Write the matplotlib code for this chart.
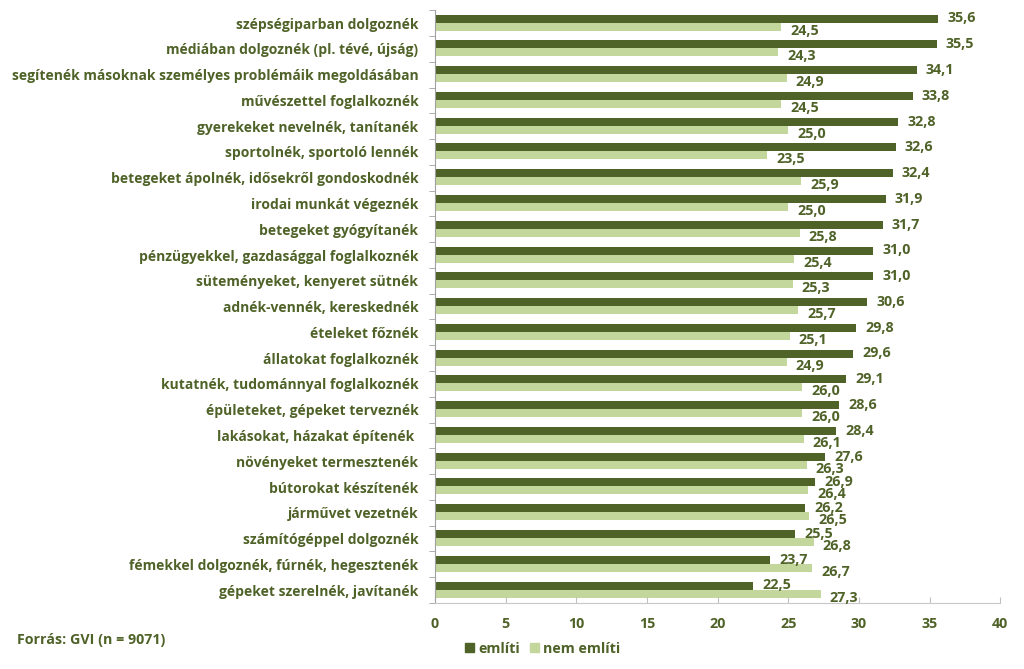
import numpy as np
import matplotlib.pyplot as plt
from matplotlib.patches import Patch

categories = [
    "szépségiparban dolgoznék",
    "médiában dolgoznék (pl. tévé, újság)",
    "segítenék másoknak személyes problémáik megoldásában",
    "művészettel foglalkoznék",
    "gyerekeket nevelnék, tanítanék",
    "sportolnék, sportoló lennék",
    "betegeket ápolnék, idősekről gondoskodnék",
    "irodai munkát végeznék",
    "betegeket gyógyítanék",
    "pénzügyekkel, gazdasággal foglalkoznék",
    "süteményeket, kenyeret sütnék",
    "adnék-vennék, kereskednék",
    "ételeket főznék",
    "állatokat foglalkoznék",
    "kutatnék, tudománnyal foglalkoznék",
    "épületeket, gépeket terveznék",
    "lakásokat, házakat építenék ",
    "növényeket termesztenék",
    "bútorokat készítenék",
    "járművet vezetnék",
    "számítógéppel dolgoznék",
    "fémekkel dolgoznék, fúrnék, hegesztenék",
    "gépeket szerelnék, javítanék",
]
emliti = [35.6, 35.5, 34.1, 33.8, 32.8, 32.6, 32.4, 31.9, 31.7, 31.0, 31.0, 30.6,
          29.8, 29.6, 29.1, 28.6, 28.4, 27.6, 26.9, 26.2, 25.5, 23.7, 22.5]
nem_emliti = [24.5, 24.3, 24.9, 24.5, 25.0, 23.5, 25.9, 25.0, 25.8, 25.4, 25.3, 25.7,
              25.1, 24.9, 26.0, 26.0, 26.1, 26.3, 26.4, 26.5, 26.8, 26.7, 27.3]
series_names = ["említi", "nem említi"]
xticks = [0, 5, 10, 15, 20, 25, 30, 35, 40]

dark = "#4f6228"
light = "#c3d69b"
txt = "#4f6228"
plt.rcParams['font.family'] = ['Open Sans', 'DejaVu Sans']
fs = 10.3
fw = "bold"

fig = plt.figure(figsize=(10.24, 6.69), dpi=100)
ax = fig.add_axes([0.4248, 0.0987, 0.552, 0.886])

n = len(categories)
y = np.arange(n)
h = 0.31
ax.barh(y - h / 2 - 0.02, emliti, height=h, color=dark)
ax.barh(y + h / 2 - 0.02, nem_emliti, height=h, color=light)

for i in range(n):
    ax.annotate(f"{emliti[i]:.1f}".replace(".", ","), (emliti[i], y[i] - h / 2),
                xytext=(6.5, 0.5), textcoords="offset points", va="center", ha="left",
                fontsize=fs, fontweight=fw, color=txt)
    ax.annotate(f"{nem_emliti[i]:.1f}".replace(".", ","), (nem_emliti[i], y[i] + h / 2),
                xytext=(6.5, -2.5), textcoords="offset points", va="center", ha="left",
                fontsize=fs, fontweight=fw, color=txt)

ax.set_ylim(n - 0.5, -0.5)
ax.set_xlim(0, 40)
ax.set_yticks(y)
ax.set_yticklabels(categories, fontsize=10, fontweight=fw, color=txt)
ax.set_yticks(np.arange(n + 1) - 0.5, minor=True)
ax.tick_params(axis="y", which="major", length=0, pad=12)
ax.tick_params(axis="y", which="minor", length=4, color="#a0a0a0")
ax.set_xticks(xticks)
ax.set_xticklabels([str(v) for v in xticks], fontsize=fs, fontweight=fw, color=txt)
ax.tick_params(axis="x", length=4, color="#c0c0c0", direction="in", pad=10)

for s in ["top", "right"]:
    ax.spines[s].set_visible(False)
ax.spines["left"].set_color("#a0a0a0")
ax.spines["bottom"].set_color("#c8c8c8")

handles = [Patch(color=dark), Patch(color=light)]
fig.legend(handles, series_names, loc="center", bbox_to_anchor=(0.53, 0.03), ncol=2,
           frameon=False, prop={"size": fs, "weight": fw}, labelcolor=txt,
           handlelength=0.6, handleheight=0.6, handletextpad=0.3, columnspacing=0.7)

fig.text(0.017, 0.043, "Forrás: GVI (n = 9071)", fontsize=fs, fontweight=fw,
         color=txt, va="center")

fig.savefig("out.png", dpi=100)
